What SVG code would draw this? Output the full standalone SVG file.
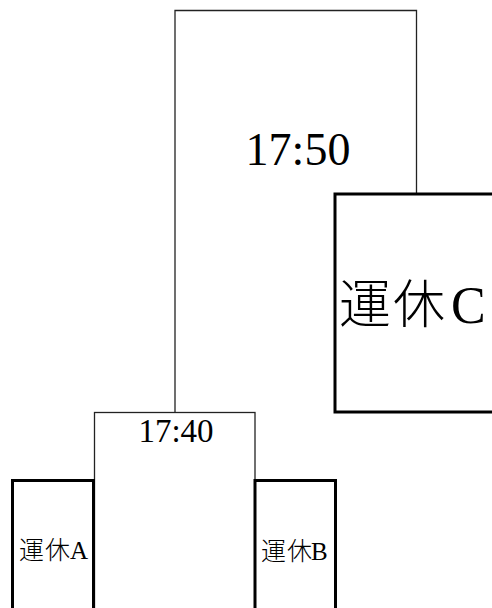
<svg xmlns="http://www.w3.org/2000/svg" width="492" height="608" viewBox="0 0 492 608">
<style>
.thin{fill:#fff;stroke:#222;stroke-width:1.3}
.thick{fill:#fff;stroke:#000;stroke-width:3}
.conn{fill:none;stroke:#222;stroke-width:1.3}
text{font-family:"Liberation Serif","Noto Sans CJK JP",serif;fill:#000}
.mid{text-anchor:middle}
.cjk{font-weight:300}
</style>
<rect width="492" height="608" fill="#fff"/>
<g id="connectors">
<path class="conn" d="M175,412.5 V10.5 H416.5 V194"/>
</g>
<g id="node-1750">
<text class="mid" x="298" y="165" font-size="46">17:50</text>
</g>
<g id="node-C">
<rect class="thick" x="335" y="194" width="180" height="218"/>
<text y="323" font-size="52"><tspan class="cjk" x="339">運</tspan><tspan class="cjk" x="393">休</tspan><tspan x="451">C</tspan></text>
</g>
<g id="node-1740">
<rect class="thin" x="94.5" y="412.5" width="160.5" height="220"/>
<text class="mid" x="176" y="442" font-size="33">17:40</text>
</g>
<g id="node-A">
<rect class="thick" x="12.5" y="480.5" width="81" height="150"/>
<text y="559" font-size="25"><tspan class="cjk" x="19">運</tspan><tspan class="cjk" x="45">休</tspan><tspan x="70">A</tspan></text>
</g>
<g id="node-B">
<rect class="thick" x="255" y="480.5" width="80.5" height="150"/>
<text y="560" font-size="25"><tspan class="cjk" x="261">運</tspan><tspan class="cjk" x="287">休</tspan><tspan x="311">B</tspan></text>
</g>
</svg>
